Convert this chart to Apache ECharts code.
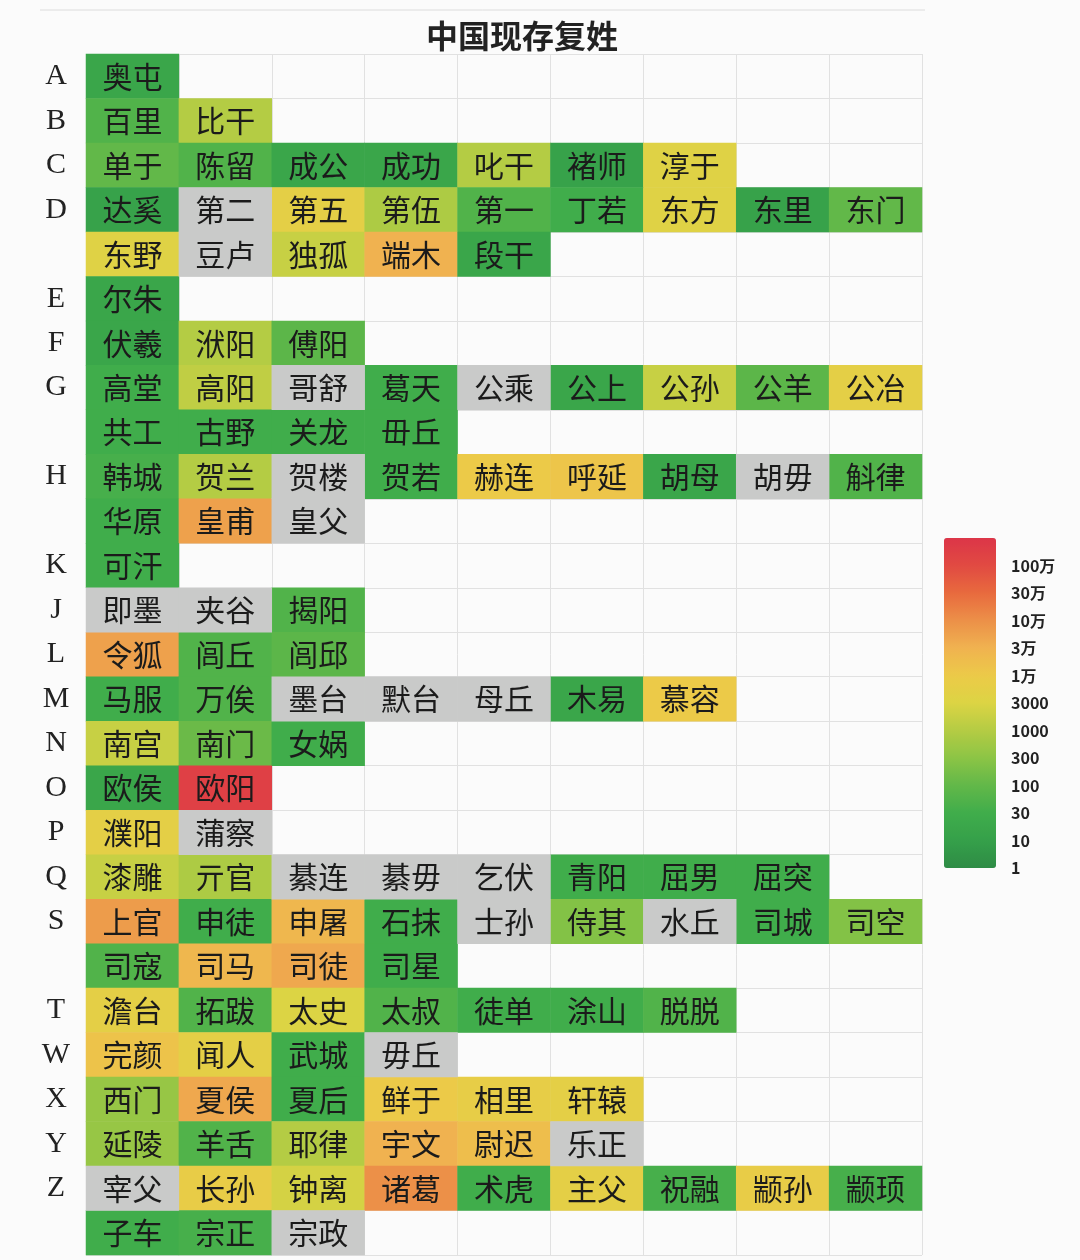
<!DOCTYPE html>
<html>
<head>
<meta charset="utf-8">
<script src="https://cdn.jsdelivr.net/npm/echarts@6/dist/echarts.min.js"></script>
<style>html,body{margin:0;padding:0;background:#fbfbfb}#c{width:1080px;height:1260px}</style>
</head>
<body>
<div id="c"></div>
<script>
// Row letters (left column)
const rowLetters = ['A','B','C','D','','E','F','G','','H','','K','J','L','M','N','O','P','Q','S','','T','W','X','Y','Z',''];
// Surnames in each row
const surnames = [
  ['奥屯'],
  ['百里','比干'],
  ['单于','陈留','成公','成功','叱干','褚师','淳于'],
  ['达奚','第二','第五','第伍','第一','丁若','东方','东里','东门'],
  ['东野','豆卢','独孤','端木','段干'],
  ['尔朱'],
  ['伏羲','洑阳','傅阳'],
  ['高堂','高阳','哥舒','葛天','公乘','公上','公孙','公羊','公冶'],
  ['共工','古野','关龙','毌丘'],
  ['韩城','贺兰','贺楼','贺若','赫连','呼延','胡母','胡毋','斛律'],
  ['华原','皇甫','皇父'],
  ['可汗'],
  ['即墨','夹谷','揭阳'],
  ['令狐','闾丘','闾邱'],
  ['马服','万俟','墨台','默台','母丘','木易','慕容'],
  ['南宫','南门','女娲'],
  ['欧侯','欧阳'],
  ['濮阳','蒲察'],
  ['漆雕','亓官','綦连','綦毋','乞伏','青阳','屈男','屈突'],
  ['上官','申徒','申屠','石抹','士孙','侍其','水丘','司城','司空'],
  ['司寇','司马','司徒','司星'],
  ['澹台','拓跋','太史','太叔','徒单','涂山','脱脱'],
  ['完颜','闻人','武城','毋丘'],
  ['西门','夏侯','夏后','鲜于','相里','轩辕'],
  ['延陵','羊舌','耶律','宇文','尉迟','乐正'],
  ['宰父','长孙','钟离','诸葛','术虎','主父','祝融','颛孙','颛顼'],
  ['子车','宗正','宗政']
];
// Estimated population per surname (null = no data, grey)
const population = [
  [17],
  [55, 1000],
  [100, 55, 17, 17, 1000, 12, 3800],
  [12, null, 5500, 800, 55, 30, 3800, 12, 100],
  [3800, null, 1700, 30000, 17],
  [17],
  [17, 1000, 80],
  [30, 1400, null, 30, null, 17, 1700, 80, 5500],
  [30, 30, 30, 30],
  [38, 1000, null, 30, 10000, 12500, 17, null, 55],
  [30, 55000, null],
  [30],
  [null, null, 55],
  [55000, 55, 80],
  [30, 55, null, null, null, 17, 10000],
  [1700, 125, 30],
  [17, 1700000],
  [5500, null],
  [1700, 800, null, null, null, 30, 30, 30],
  [65000, 30, 24000, 30, null, 240, null, 30, 240],
  [55, 24000, 42000, 30],
  [5500, 55, 3000, 55, 30, 30, 55],
  [14000, 5500, 30, null],
  [420, 42000, 30, 10000, 6800, 5500],
  [420, 55, 1000, 30000, 17000, null],
  [null, 7500, 2400, 100000, 30, 5500, 38, 7500, 38],
  [30, 38, null]
];
// Colour-bar tick labels and the population at each level
const legendLabels = ['1','10','30','100','300','1000','3000','1万','3万','10万','30万','100万'];
const levelBreaks = [1, 10, 30, 100, 300, 1000, 3000, 1e4, 3e4, 1e5, 3e5, 1e6, 3e6];
const levelColors = ['#2e8b45','#35a04a','#40ad4b','#62b849','#8cc445','#b4cc44','#dcd444','#ecca48','#f0b250','#ec9048','#e86a3e','#e14a42','#dc3548'];
const columns = ['1','2','3','4','5','6','7','8','9'];

function toLevel(v) {
  for (let i = 0; i < levelBreaks.length - 1; i++) {
    if (v <= levelBreaks[i + 1]) {
      const a = Math.log(levelBreaks[i]), b = Math.log(levelBreaks[i + 1]);
      return i + (Math.log(Math.max(v, 1)) - a) / (b - a);
    }
  }
  return levelBreaks.length - 1;
}

const known = [], unknown = [];
surnames.forEach((row, r) => {
  row.forEach((name, c) => {
    const p = population[r][c];
    if (p == null) unknown.push({ name: name, value: [c, r, 0] });
    else known.push({ name: name, value: [c, r, toLevel(p)] });
  });
});

const cellLabel = {
  show: true,
  formatter: p => p.data.name,
  fontFamily: 'Noto Sans CJK SC',
  fontSize: 30,
  color: '#1b1b1b'
};

const chart = echarts.init(document.getElementById('c'));
chart.setOption({
  backgroundColor: '#fbfbfb',
  animation: false,
  title: {
    text: '中国现存复姓',
    left: 421,
    top: 15,
    textStyle: { fontFamily: 'Noto Sans CJK SC', fontSize: 32, fontWeight: 'bold', color: '#222' }
  },
  graphic: [{
    type: 'line', shape: { x1: 40, y1: 10, x2: 925, y2: 10 },
    style: { stroke: '#dcdcdc', lineWidth: 1 }
  }],
  grid: [
    { left: 86, right: 158, top: 54, bottom: 5 },
    { left: 944, top: 538, width: 52, height: 330 }
  ],
  xAxis: [
    {
      type: 'category', data: columns, gridIndex: 0,
      axisLabel: { show: false }, axisTick: { show: false }, axisLine: { show: false },
      splitLine: { show: true, interval: 0, lineStyle: { color: '#e1e1e1', width: 1 } }
    },
    { type: 'value', gridIndex: 1, show: false, min: 0, max: 1 }
  ],
  yAxis: [
    {
      type: 'category', data: rowLetters, gridIndex: 0, inverse: true,
      axisTick: { show: false }, axisLine: { show: false },
      axisLabel: { interval: 0, align: 'center', margin: 30, padding: [4, 0, 0, 0], fontFamily: 'Liberation Serif', fontSize: 30, color: '#222' },
      splitLine: { show: true, interval: 0, lineStyle: { color: '#e1e1e1', width: 1 } }
    },
    {
      type: 'value', gridIndex: 1, min: 0, max: 12, interval: 1, position: 'right',
      axisLine: { show: false }, axisTick: { show: false }, splitLine: { show: false },
      axisLabel: {
        margin: 15, fontFamily: 'Noto Sans CJK SC', fontSize: 16, fontWeight: 'bold', color: '#222',
        formatter: v => legendLabels[v] || ''
      }
    }
  ],
  visualMap: {
    type: 'continuous',
    seriesIndex: 0,
    min: 0, max: 12,
    calculable: false,
    hoverLink: false,
    orient: 'vertical',
    left: 944, top: 538,
    padding: 0,
    itemWidth: 52, itemHeight: 330,
    text: null,
    inRange: { color: levelColors }
  },
  series: [
    {
      type: 'heatmap', xAxisIndex: 0, yAxisIndex: 0, data: known,
      label: cellLabel, emphasis: { disabled: true }
    },
    {
      type: 'heatmap', xAxisIndex: 0, yAxisIndex: 0, data: unknown,
      itemStyle: { color: '#c9cac9' },
      label: cellLabel, emphasis: { disabled: true }
    },
    { type: 'line', xAxisIndex: 1, yAxisIndex: 1, data: [] }
  ]
});
</script>
</body>
</html>
